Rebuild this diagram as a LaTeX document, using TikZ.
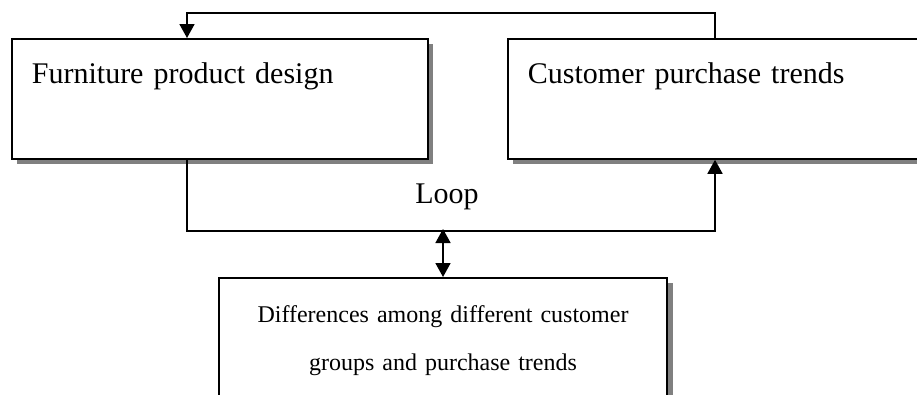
\documentclass[tikz,border=0pt]{standalone}
\usepackage{fontspec}
\setmainfont{Liberation Serif}
\usetikzlibrary{arrows.meta,positioning,shadows}
\definecolor{loopGrey}{HTML}{808080}
\definecolor{loopInk}{HTML}{000000}
\tikzset{
  >={Triangle[length=14pt,width=15pt]},
  boxshadow/.style={drop shadow={shadow xshift=5.5pt, shadow yshift=-5.5pt,
              fill=loopGrey, opacity=1}},
  topbox/.style={draw=loopInk, line width=1.8pt, fill=white, align=left,
              anchor=north west, inner xsep=20pt, inner ysep=0pt,
              text height=45pt, text depth=75pt,
              font=\fontsize{30}{36}\selectfont, boxshadow},
  groupbox/.style={draw=loopInk, line width=1.8pt, fill=white, align=center,
              anchor=north, inner xsep=10pt, inner ysep=0pt,
              text height=45pt, text depth=92pt,
              font=\fontsize{24}{48}\selectfont, boxshadow},
  lbl/.style={font=\fontsize{30}{36}\selectfont, anchor=base},
  link/.style={draw=loopInk, line width=1.7pt},
}

\begin{document}
\begin{tikzpicture}[x=1pt,y=-1pt]
        \useasboundingbox (0,0) rectangle (917,394);
        % the two upper boxes
        \node[topbox,text width=376pt] (design) at (11,38){Furniture product design};
        \node[topbox,text width=420pt] (trends) at (507,38){Customer purchase trends};
        % lower box, cut off by the page
        \node[groupbox,text width=428pt] (groups) at (443,277)
          {Differences among different customer\\groups and purchase trends};
        % feedback over the top
        \draw[link,->] ([xshift=208pt]trends.north west) -- ++(0,-25)
          -| ([xshift=176pt]design.north west);
        % the loop below
        \draw[link,->] ([xshift=176pt]design.south west) -- ++(0,71)
          -| ([xshift=208pt]trends.south west);
        \coordinate (loopmid) at (443,229);
        \node[lbl] (looplbl) at (447,203){Loop};
        \draw[link,<->] (loopmid) -- (groups.north);
      \end{tikzpicture}
\end{document}
